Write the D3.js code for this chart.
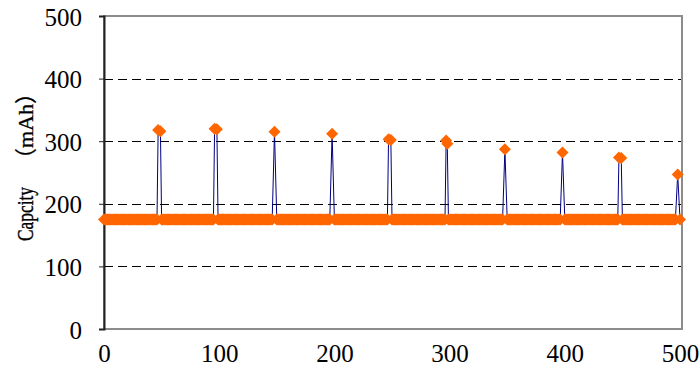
<!DOCTYPE html>
<html>
<head>
<meta charset="utf-8">
<script src="https://cdn.jsdelivr.net/npm/d3@7"></script>
<style>
  body { margin: 0; background: #fff; }
  svg { display: block; }
  svg text { font-family: "Liberation Serif", "Noto Sans CJK SC", serif; }
</style>
</head>
<body>
<svg id="chart" width="699" height="373"></svg>
<script>
// capacity per cycle
const xTicks = [0, 100, 200, 300, 400, 500];
const yTicks = [0, 100, 200, 300, 400, 500];
const restCapacity = 175;
const lastCycle = 500;
const peakCycles = [47, 49, 96, 98, 148, 198, 247, 249, 297, 298, 348, 398, 447, 449, 498];
const peakCaps   = [318, 316, 320, 319, 315, 312, 303, 302, 301, 296, 287, 282, 274, 273, 247];

const svg = d3.select("#chart");
const margin = { top: 16, left: 104, bottom: 44 };
const width = 699, height = 373;

const x = d3.scaleLinear().domain([0, 500]).range([margin.left, 680]);
const y = d3.scaleLinear().domain([0, 500]).range([height - margin.bottom, margin.top]);
const plotRight = 682;

// build the series: rest points every cycle, peaks replace them
function isPeak(c) { return peakCycles.indexOf(c) >= 0; }
function lonePeak(p) { return !peakCycles.some(q => q !== p && Math.abs(q - p) <= 2); }
const series = [];
for (let c = 0; c <= lastCycle; c++) {
  const i = peakCycles.indexOf(c);
  if (i >= 0) { series.push({ c: c, v: peakCaps[i] }); continue; }
  if (isPeak(c - 1) && isPeak(c + 1)) continue;
  if (peakCycles.some(p => Math.abs(p - c) === 1 && lonePeak(p))) continue;
  series.push({ c: c, v: restCapacity });
}

// grid lines
svg.append("g")
  .selectAll("line")
  .data(yTicks.filter(t => t > 0 && t < 500))
  .enter().append("line")
  .attr("x1", margin.left).attr("x2", plotRight)
  .attr("y1", d => Math.round(y(d)) + 0.5).attr("y2", d => Math.round(y(d)) + 0.5)
  .attr("stroke", "#000").attr("stroke-width", 1)
  .attr("stroke-dasharray", "9,5");

// plot frame
svg.append("rect")
  .attr("x", margin.left).attr("y", y(500))
  .attr("width", plotRight - margin.left).attr("height", y(0) - y(500))
  .attr("fill", "none").attr("stroke", "#8c8c8c").attr("stroke-width", 2);

// y axis
const yAxis = svg.append("g")
  .attr("transform", "translate(" + margin.left + ",0)")
  .call(d3.axisLeft(y).tickValues(yTicks).tickSize(5).tickPadding(17))
  .attr("font-family", null)
  .attr("font-size", 25);
yAxis.select(".domain").attr("stroke", "#222").attr("stroke-width", 2);
yAxis.selectAll(".tick line").attr("stroke", "#222");
yAxis.selectAll(".tick text").attr("dy", "0.36em").attr("fill", "#000");

// x axis
const xAxis = svg.append("g")
  .attr("transform", "translate(0," + y(0) + ")")
  .call(d3.axisBottom(x).tickValues(xTicks).tickSize(0).tickPadding(15))
  .attr("font-family", null)
  .attr("font-size", 25);
xAxis.select(".domain").remove();
xAxis.selectAll(".tick text").attr("fill", "#000");

// line
const line = d3.line().x(d => x(d.c)).y(d => y(d.v));
svg.append("path")
  .datum(series)
  .attr("d", line)
  .attr("fill", "none")
  .attr("stroke", "#000080")
  .attr("stroke-width", 1);

// diamond markers
const r = 6;
const diamond = "M0," + (-r) + "L" + r + ",0L0," + r + "L" + (-r) + ",0Z";
svg.append("g")
  .selectAll("path")
  .data(series)
  .enter().append("path")
  .attr("d", diamond)
  .attr("transform", d => "translate(" + x(d.c) + "," + y(d.v) + ")")
  .attr("fill", "#ff6600");

// y title
svg.append("text")
  .attr("transform", "translate(33,241) rotate(-90)")
  .attr("font-size", 24)
  .attr("stroke", "#000").attr("stroke-width", 0.4)
  .attr("textLength", 54)
  .attr("lengthAdjust", "spacingAndGlyphs")
  .text("Capcity");
svg.append("text")
  .attr("transform", "translate(33,170) rotate(-90)")
  .attr("font-size", 22)
  .attr("stroke", "#000").attr("stroke-width", 0.3)
  .text("（mAh）");
</script>
</body>
</html>
